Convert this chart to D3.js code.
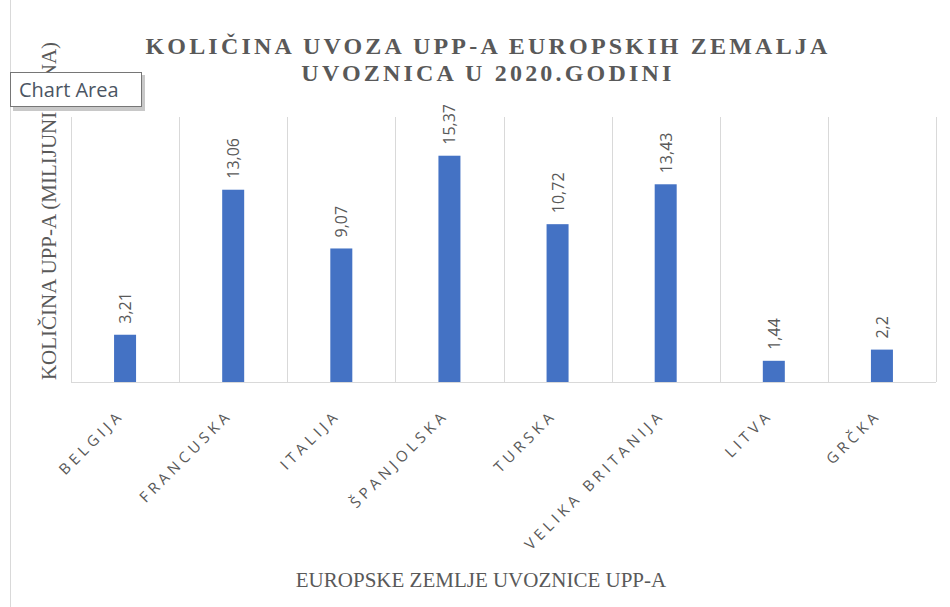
<!DOCTYPE html>
<html>
<head>
<meta charset="utf-8">
<script src="https://cdn.jsdelivr.net/npm/d3@7"></script>
<style>
  body { margin: 0; background: #fff; }
  svg { display: block; }
  .serif { font-family: 'Liberation Serif', 'Times New Roman', 'DejaVu Serif', serif; }
  .sans { font-family: 'Open Sans', 'DejaVu Sans', sans-serif; }
</style>
</head>
<body>
<div id="chart"></div>
<script>
// Podaci
const countries = ['BELGIJA', 'FRANCUSKA', 'ITALIJA', 'ŠPANJOLSKA', 'TURSKA', 'VELIKA BRITANIJA', 'LITVA', 'GRČKA'];
const values = [3.21, 13.06, 9.07, 15.37, 10.72, 13.43, 1.44, 2.2];
const valueLabels = ['3,21', '13,06', '9,07', '15,37', '10,72', '13,43', '1,44', '2,2'];

const W = 950, H = 607;
const plot = { left: 71, right: 936, top: 117, bottom: 382 };

const svg = d3.select('#chart').append('svg')
    .attr('width', W).attr('height', H);

svg.append('rect').attr('width', W).attr('height', H).attr('fill', '#fff');

// rub chart area
svg.append('line')
    .attr('x1', 10.5).attr('x2', 10.5).attr('y1', 0).attr('y2', H)
    .attr('stroke', '#d9d9d9');

const x = d3.scaleBand().domain(countries).range([plot.left, plot.right]).padding(0);
const y = d3.scaleLinear().domain([0, 18]).range([plot.bottom, plot.top]);

// vertikalne linije mreže (granice kategorija)
const bounds = countries.map(c => x(c)).concat([plot.right]);
svg.append('g').selectAll('line')
    .data(bounds)
    .join('line')
    .attr('x1', d => Math.round(d) + 0.5).attr('x2', d => Math.round(d) + 0.5)
    .attr('y1', plot.top).attr('y2', plot.bottom)
    .attr('stroke', '#d9d9d9');

// os x
svg.append('line')
    .attr('x1', plot.left).attr('x2', plot.right)
    .attr('y1', plot.bottom + 0.5).attr('y2', plot.bottom + 0.5)
    .attr('stroke', '#d9d9d9');

// stupci
const barW = 22;
svg.append('g').selectAll('rect')
    .data(countries)
    .join('rect')
    .attr('x', (d) => x(d) + x.bandwidth() / 2 - barW / 2)
    .attr('y', (d, i) => y(values[i]))
    .attr('width', barW)
    .attr('height', (d, i) => plot.bottom - y(values[i]))
    .attr('fill', '#4472c4');

// oznake vrijednosti
svg.append('g').selectAll('text')
    .data(countries)
    .join('text')
    .attr('class', 'sans')
    .attr('transform', (d, i) => `translate(${x(d) + x.bandwidth() / 2 + 6},${y(values[i]) - 11}) rotate(-90)`)
    .attr('font-size', '16px')
    .attr('fill', '#595959')
    .text((d, i) => valueLabels[i]);

// oznake kategorija
svg.append('g').selectAll('text')
    .data(countries)
    .join('text')
    .attr('class', 'sans')
    .attr('transform', d => `translate(${x(d) + x.bandwidth() / 2},${plot.bottom + 34}) rotate(-45)`)
    .attr('text-anchor', 'end')
    .attr('font-size', '15px')
    .attr('letter-spacing', '4.3px')
    .attr('fill', '#595959')
    .text(d => d);

// naslov
const title = svg.append('text')
    .attr('class', 'serif')
    .attr('text-anchor', 'middle')
    .attr('font-weight', 'bold')
    .attr('font-size', '24px')
    .attr('letter-spacing', '3.2px')
    .attr('fill', '#595959');
title.append('tspan').attr('x', 488).attr('y', 54).text('KOLIČINA UVOZA UPP-A EUROPSKIH ZEMALJA');
title.append('tspan').attr('x', 488).attr('y', 81).text('UVOZNICA U 2020.GODINI');

// naslovi osi
svg.append('text')
    .attr('class', 'serif')
    .attr('transform', 'translate(56,211) rotate(-90)')
    .attr('text-anchor', 'middle')
    .attr('font-size', '21px')
    .attr('fill', '#595959')
    .text('KOLIČINA UPP-A (MILIJUNI TONA)');

svg.append('text')
    .attr('class', 'serif')
    .attr('x', 481).attr('y', 587)
    .attr('text-anchor', 'middle')
    .attr('font-size', '21px')
    .attr('fill', '#595959')
    .text('EUROPSKE ZEMLJE UVOZNICE UPP-A');

// tooltip "Chart Area"
const tip = svg.append('g').attr('transform', 'translate(10,72)');
tip.append('rect').attr('x', 3).attr('y', 3).attr('width', 132).attr('height', 36)
    .attr('fill', '#9a9a9a').attr('opacity', 0.55);
tip.append('rect').attr('x', 0.5).attr('y', 0.5).attr('width', 131).attr('height', 34)
    .attr('fill', '#fff').attr('stroke', '#767676');
tip.append('text').attr('x', 9).attr('y', 25)
    .attr('class', 'sans')
    .attr('font-size', '20px')
    .attr('fill', '#4b5563')
    .text('Chart Area');
</script>
</body>
</html>
